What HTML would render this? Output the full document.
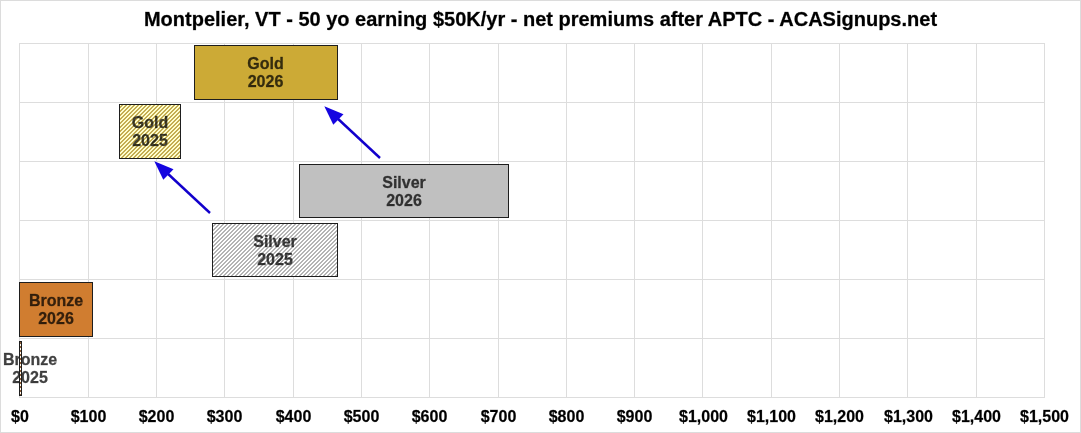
<!DOCTYPE html>
<html><head><meta charset="utf-8">
<style>
html,body{margin:0;padding:0;background:#fff;}
body{width:1081px;height:433px;overflow:hidden;}
svg{display:block;will-change:transform;}
text{font-family:"Liberation Sans",sans-serif;font-weight:bold;}
.lbl{font-size:16px;fill:#000;fill-opacity:0.74;stroke:#000;stroke-opacity:0.5;stroke-width:0.35px;paint-order:stroke;text-anchor:middle;}
.ax{font-size:16px;fill:#000;stroke:#000;stroke-width:0.35px;stroke-opacity:0.6;text-anchor:middle;}
.ttl{font-size:20px;fill:#000;stroke:#000;stroke-width:0.4px;stroke-opacity:0.6;text-anchor:middle;}
</style></head><body>
<svg width="1081" height="433" viewBox="0 0 1081 433" shape-rendering="crispEdges">
<defs>
<pattern id="hg" patternUnits="userSpaceOnUse" width="4" height="4"><rect width="4" height="4" fill="#fffecd"/><g fill="#c4ad52"><rect x="2" y="0" width="1" height="1"/><rect x="3" y="0" width="1" height="1"/><rect x="1" y="1" width="1" height="1"/><rect x="2" y="1" width="1" height="1"/><rect x="0" y="2" width="1" height="1"/><rect x="1" y="2" width="1" height="1"/><rect x="0" y="3" width="1" height="1"/><rect x="3" y="3" width="1" height="1"/></g></pattern>
<pattern id="hs" patternUnits="userSpaceOnUse" width="4" height="4"><rect width="4" height="4" fill="#ffffff"/><g fill="#b4b4b4"><rect x="2" y="0" width="1" height="1"/><rect x="3" y="0" width="1" height="1"/><rect x="1" y="1" width="1" height="1"/><rect x="2" y="1" width="1" height="1"/><rect x="0" y="2" width="1" height="1"/><rect x="1" y="2" width="1" height="1"/><rect x="0" y="3" width="1" height="1"/><rect x="3" y="3" width="1" height="1"/></g></pattern>
<pattern id="hb" patternUnits="userSpaceOnUse" width="4" height="4"><rect width="4" height="4" fill="#fffaf0"/><g fill="#8a5a34"><rect x="2" y="0" width="1" height="1"/><rect x="3" y="0" width="1" height="1"/><rect x="1" y="1" width="1" height="1"/><rect x="2" y="1" width="1" height="1"/><rect x="0" y="2" width="1" height="1"/><rect x="1" y="2" width="1" height="1"/><rect x="0" y="3" width="1" height="1"/><rect x="3" y="3" width="1" height="1"/></g></pattern>
</defs>
<rect x="0.5" y="0.5" width="1080" height="432" fill="#fff" stroke="#dcdcdc"/>
<g stroke="#dddddd" stroke-width="1" fill="none">
<path d="M19.5,43V397 M88.5,43V397 M156.5,43V397 M224.5,43V397 M293.5,43V397 M361.5,43V397 M429.5,43V397 M498.5,43V397 M566.5,43V397 M634.5,43V397 M702.5,43V397 M771.5,43V397 M839.5,43V397 M907.5,43V397 M976.5,43V397 M1044.5,43V397"/>
<path d="M19,43.5H1045 M19,102.5H1045 M19,161.5H1045 M19,220.5H1045 M19,279.5H1045 M19,338.5H1045 M19,397.5H1045"/>
</g>
<g stroke="#1e1e1e" stroke-width="1">
<rect x="194.5" y="45.5" width="143" height="54" fill="#ccaa36"/>
<rect x="119.5" y="104.5" width="61" height="54" fill="url(#hg)"/>
<rect x="299.5" y="164.5" width="209" height="53" fill="#c0c0c0"/>
<rect x="212.5" y="223.5" width="125" height="53" fill="url(#hs)"/>
<rect x="19.5" y="282.5" width="73" height="54" fill="#d07d30"/>
</g>
<g class="lbl">
<text class="lbl" x="265.5" y="69">Gold</text><text class="lbl" x="265.5" y="87">2026</text>
<text class="lbl" x="150" y="128">Gold</text><text class="lbl" x="150" y="146">2025</text>
<text class="lbl" x="404" y="188">Silver</text><text class="lbl" x="404" y="206">2026</text>
<text class="lbl" x="275" y="247">Silver</text><text class="lbl" x="275" y="265">2025</text>
<text class="lbl" x="56" y="306">Bronze</text><text class="lbl" x="56" y="324">2026</text>
<text class="lbl" x="30" y="365">Bronze</text><text class="lbl" x="30" y="383">2025</text>
</g>
<rect x="19.5" y="341.5" width="2" height="54" fill="url(#hb)" stroke="#1e1e1e" shape-rendering="crispEdges"/>
<g fill="#1505e0" stroke="#1505e0" shape-rendering="auto">
<line x1="380" y1="158" x2="336" y2="117" stroke-width="2.4" stroke="#1200cc"/>
<polygon points="324.3,106.3 343.5,114.3 333.3,124.8" stroke="none"/>
<line x1="210" y1="213" x2="166" y2="172" stroke-width="2.4" stroke="#1200cc"/>
<polygon points="154.3,161.3 173.5,169.3 163.3,179.8" stroke="none"/>
</g>
<text class="ttl" x="540.5" y="26">Montpelier, VT - 50 yo earning $50K/yr - net premiums after APTC - ACASignups.net</text>
<g class="ax">
<text class="ax" x="20" y="422">$0</text>
<text class="ax" x="88.5" y="422">$100</text>
<text class="ax" x="156.5" y="422">$200</text>
<text class="ax" x="224.5" y="422">$300</text>
<text class="ax" x="293.5" y="422">$400</text>
<text class="ax" x="361.5" y="422">$500</text>
<text class="ax" x="429.5" y="422">$600</text>
<text class="ax" x="498.5" y="422">$700</text>
<text class="ax" x="566.5" y="422">$800</text>
<text class="ax" x="634.5" y="422">$900</text>
<text class="ax" x="703.5" y="422">$1,000</text>
<text class="ax" x="771.5" y="422">$1,100</text>
<text class="ax" x="839.5" y="422">$1,200</text>
<text class="ax" x="908.5" y="422">$1,300</text>
<text class="ax" x="976.5" y="422">$1,400</text>
<text class="ax" x="1044.5" y="422">$1,500</text>
</g>
</svg>
</body></html>
